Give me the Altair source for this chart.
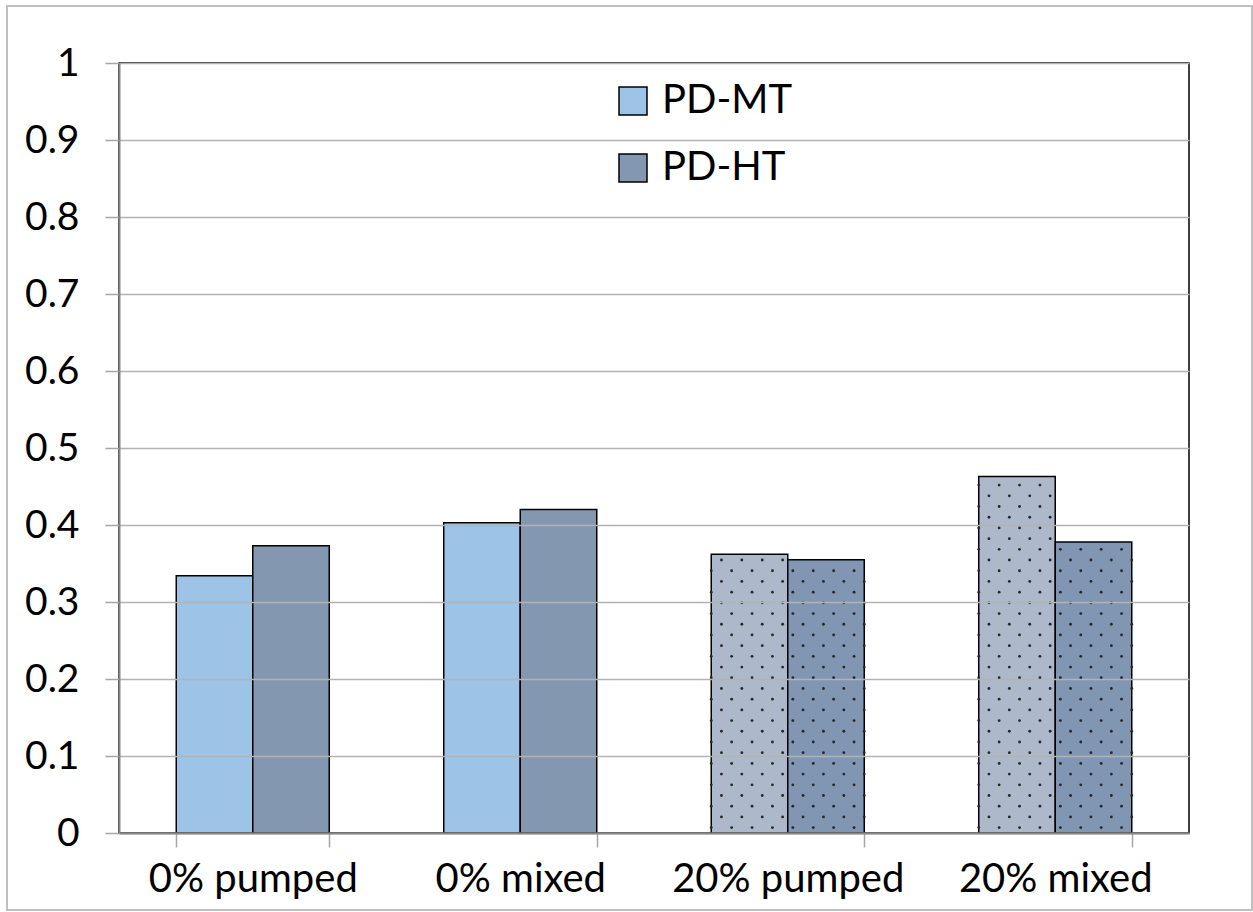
import altair as alt
import pandas as pd

categories = ["0% pumped", "0% mixed", "20% pumped", "20% mixed"]
series = ["PD-MT", "PD-HT"]
mt_values = [0.334, 0.403, 0.362, 0.463]
ht_values = [0.373, 0.420, 0.355, 0.378]
dotted = [False, False, True, True]
y_ticks = [0, 0.1, 0.2, 0.3, 0.4, 0.5, 0.6, 0.7, 0.8, 0.9, 1]

fill_keys = ["PD-MT", "PD-HT", "PD-MT dots", "PD-HT dots"]
fill_colors = ["#9DC3E6", "#8497B0", "#ADB9CA", "#8096B3"]

rows = []
for i, c in enumerate(categories):
    for s, vals in zip(series, [mt_values, ht_values]):
        rows.append({
            "category": c,
            "series": s,
            "value": vals[i],
            "dotted": dotted[i],
            "fillkey": s + (" dots" if dotted[i] else ""),
        })
df = pd.DataFrame(rows)

FONT = "Lato"
sub_domain = [f"{s}-{k}" for s in series for k in range(8)]

x_enc = alt.X(
    "category:N",
    sort=categories,
    scale=alt.Scale(paddingInner=0.428, paddingOuter=0.214),
    axis=alt.Axis(
        title=None, labelAngle=0, labelFontSize=40, labelFont=FONT, labelColor="black",
        labelPadding=12, labelLimit=0, tickBand="extent", tickSize=14, tickColor="#a6a6a6",
        tickWidth=1.5, domainColor="#868686", domainWidth=2, zindex=1,
    ),
)
y_enc = alt.Y(
    "value:Q",
    scale=alt.Scale(domain=[0, 1], nice=False),
    axis=alt.Axis(
        title=None, values=y_ticks, format="~g", labelFontSize=39, labelFont=FONT,
        labelColor="black", labelPadding=26, tickSize=14, tickColor="#a6a6a6", tickWidth=1.5,
        domainColor="#868686", domainWidth=2, gridColor="#b3b3b3", gridWidth=1.5, zindex=1,
    ),
)

frame = alt.Chart(alt.Data(values=[{"f": 1}])).mark_rect(
    filled=False, stroke="#bfbfbf", strokeWidth=2
).encode(
    x=alt.value(-112), x2=alt.value(1133), y=alt.value(-57), y2=alt.value(847)
)

bars = alt.Chart(df).mark_bar(stroke="black", strokeWidth=1.5).encode(
    x=x_enc,
    xOffset=alt.XOffset("series:N", sort=series,
                        scale=alt.Scale(domain=series, paddingInner=0, paddingOuter=0)),
    y=y_enc,
    color=alt.Color(
        "fillkey:N",
        scale=alt.Scale(domain=fill_keys, range=fill_colors),
        legend=alt.Legend(
            title=None, values=series, orient="none", legendX=494, legendY=18,
            labelFontSize=40, labelFont=FONT, labelColor="black", symbolType="square",
            symbolSize=784, symbolStrokeColor="black", symbolStrokeWidth=1.5,
            symbolOpacity=1, rowPadding=27, labelOffset=9, padding=0,
        ),
    ),
)

dots = alt.Chart(df).transform_filter("datum.dotted").transform_calculate(
    ys="sequence(0.007, datum.value - 0.003, 0.0139)"
).transform_flatten(["ys"]).transform_calculate(
    row="round((datum.ys - 0.007) / 0.0139)", cols="sequence(0, 4)"
).transform_flatten(["cols"]).transform_calculate(
    sub="datum.series + '-' + (2 * datum.cols + (datum.row % 2))"
).mark_circle(size=8, color="#262626", opacity=1).encode(
    x=alt.X("category:N", sort=categories),
    xOffset=alt.XOffset("sub:N", scale=alt.Scale(domain=sub_domain, paddingInner=0, paddingOuter=0)),
    y=alt.Y("ys:Q"),
)

chart = alt.layer(frame, bars, dots).resolve_scale(xOffset="independent").properties(
    width=1070, height=770,
    padding={"left": 6, "top": 5, "right": 0, "bottom": 0},
    background="white",
).configure_view(stroke="black", strokeWidth=1.5)

chart.save("out.html", embed_options={"renderer": "svg", "actions": False})
